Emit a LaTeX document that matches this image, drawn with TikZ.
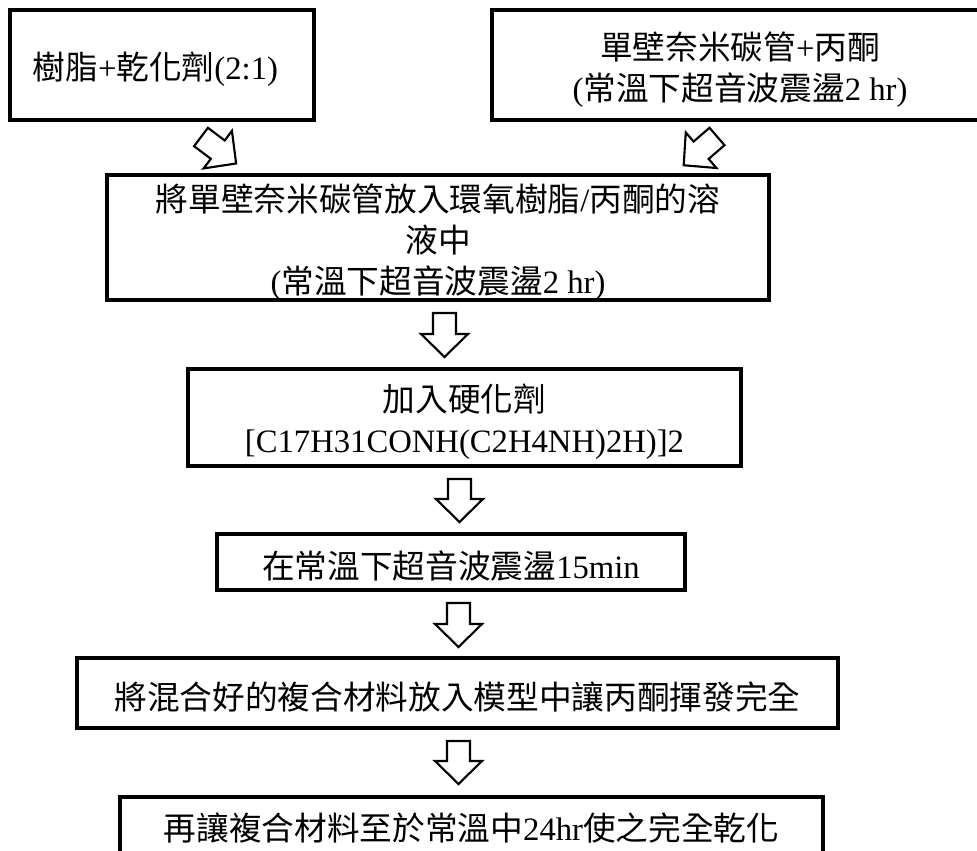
\documentclass[tikz,border=0pt]{standalone}
\usepackage{fontspec}
\setmainfont{Liberation Serif}
\newfontfamily\cjk{Noto Sans CJK TC}
\newcommand{\zh}[1]{{\cjk #1}}
\newcommand{\dn}{\rule{0pt}{27pt}}
\newcommand{\blockarrow}[3]{%
  \draw[barrow, shift={(#1)}, rotate=#2]
    (0,-11.5) -- (#3-23,-11.5) -- (#3-23,-23.5) -- (#3,0) --
    (#3-23,23.5) -- (#3-23,11.5) -- (0,11.5) -- cycle;}
\begin{document}
\begin{tikzpicture}[x=0.75pt,y=0.75pt,
  box/.style={draw=black, line width=2.4pt, rectangle, inner sep=0pt,
    align=center, font=\fontsize{24.5}{30.75}\selectfont},
  barrow/.style={draw=black, line width=1.6pt, fill=white, line join=miter}]
\useasboundingbox (0,0) rectangle (977,-850);

\node[box, minimum width=228pt, minimum height=82.5pt] (b1) at (162,-65)
  {\dn\zh{樹脂}+\zh{乾化劑}(2:1)\hspace*{10pt}};
\node[box, minimum width=372pt, minimum height=82.5pt] (b2) at (740,-65)
  {\dn\zh{單壁奈米碳管}+\zh{丙酮}\\(\zh{常溫下超音波震盪}2 hr)};
\node[box, minimum width=496.5pt, minimum height=93.75pt] (b3) at (438,-237.5)
  {\dn\zh{將單壁奈米碳管放入環氧樹脂}/\zh{丙酮的溶}\\\zh{液中}\\(\zh{常溫下超音波震盪}2 hr)};
\node[box, minimum width=414.75pt, minimum height=72.75pt] (b4) at (464.5,-417.5)
  {\dn\zh{加入硬化劑}\\{[}C17H31CONH(C2H4NH)2H)]2};
\node[box, minimum width=351pt, minimum height=42pt] (b5) at (451,-562)
  {\dn\zh{在常溫下超音波震盪}15min};
\node[box, minimum width=570.75pt, minimum height=52.5pt] (b6) at (457.5,-693)
  {\dn\zh{將混合好的複合材料放入模型中讓丙酮揮發完全}};
\node[box, minimum width=527.25pt, minimum height=46.5pt] (b7) at (471.5,-828)
  {\zh{再讓複合材料至於常溫中}24hr\zh{使之完全乾化}};

\coordinate (a0) at (201,-137);
\coordinate (a00) at (717,-136.5);
\coordinate (a1) at (444.5,-313);
\coordinate (a2) at (459.5,-479);
\coordinate (a3) at (458.5,-603);
\coordinate (a4) at (458.5,-741);

\blockarrow{a0}{-37}{44}
\blockarrow{a00}{220.8}{44}
\blockarrow{a1}{-90}{44}
\blockarrow{a2}{-90}{43}
\blockarrow{a3}{-90}{44}
\blockarrow{a4}{-90}{43}
\end{tikzpicture}
\end{document}
